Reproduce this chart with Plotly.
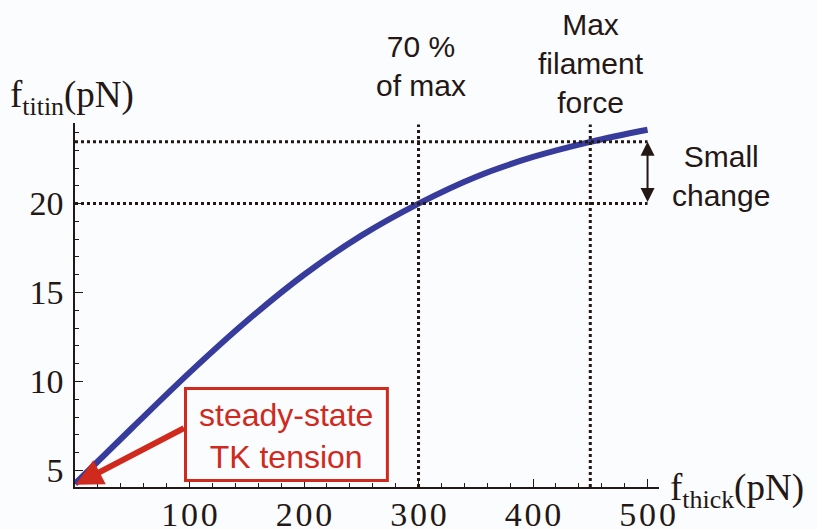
import plotly.graph_objects as go

# ---- data ----
thick_force = [0, 50, 100, 150, 200, 250, 300, 350, 400, 450, 500]
titin_force = [4.25, 7.4, 10.5, 13.4, 16.0, 18.2, 20.0, 21.5, 22.62, 23.47, 24.15]

ref_thick = [300, 450]        # vertical dotted markers (70 % of max, max filament force)
ref_titin = [20.0, 23.47]     # horizontal dotted markers
ref_top = 24.45               # top of vertical dotted markers
ref_right = 500               # right end of horizontal dotted markers

x_ticks = [100, 200, 300, 400, 500]
y_ticks = [5, 10, 15, 20]
x_range = [0, 510]
y_range = [4.07, 24.53]

steady_state = (0.5, 4.2)     # steady-state TK tension point

TXT = "#231815"
BLUE = "#363b9c"
RED = "#d02a1e"
BG = "#fbfcfe"
SERIF = "Liberation Serif"
SANS = "Liberation Sans"

L, R, T, B = 75, 158, 123, 42
W, H = 817, 529
pw, ph = W - L - R, H - T - B


def px2paper(px, py):
    return (px - L) / pw, (H - B - py) / ph


fig = go.Figure()

fig.add_trace(go.Scatter(
    x=thick_force, y=titin_force, mode="lines",
    line=dict(color=BLUE, width=6, shape="spline", smoothing=1.0),
    hoverinfo="skip", showlegend=False))

for xv in ref_thick:
    fig.add_trace(go.Scatter(
        x=[xv, xv], y=[y_range[0], ref_top], mode="lines",
        line=dict(color=TXT, width=3, dash="dot"),
        hoverinfo="skip", showlegend=False))
for yv in ref_titin:
    fig.add_trace(go.Scatter(
        x=[x_range[0], ref_right], y=[yv, yv], mode="lines",
        line=dict(color=TXT, width=3, dash="dot"),
        hoverinfo="skip", showlegend=False))

# red box
fig.add_shape(type="rect", xref="x", yref="y",
              x0=96.5, x1=272.8, y0=4.44, y1=9.61,
              line=dict(color=RED, width=3), fillcolor=BG, layer="above")

ann = []


def text_ann(px, py, text, size, color=TXT, family=SANS, xanchor="center"):
    x, y = px2paper(px, py)
    ann.append(dict(x=x, y=y, xref="paper", yref="paper", showarrow=False,
                    xanchor=xanchor, yanchor="middle", text=text,
                    font=dict(family=family, size=size, color=color)))


text_ann(286, 436, "steady-state<br>TK tension", 32, RED)
# red arrow
ann.append(dict(x=steady_state[0], y=steady_state[1], ax=96.5, ay=7.42,
                xref="x", yref="y", axref="x", ayref="y", text="",
                showarrow=True, arrowhead=2, arrowsize=0.9, arrowwidth=6,
                arrowcolor=RED))
# double arrow "small change"
ann.append(dict(x=ref_right, y=ref_titin[1], ax=ref_right, ay=ref_titin[0],
                xref="x", yref="y", axref="x", ayref="y", text="",
                showarrow=True, arrowhead=2, arrowside="end+start",
                arrowsize=1.4, arrowwidth=2, arrowcolor=TXT))
text_ann(721, 176, "Small<br>change", 30)
text_ann(421, 66, "70 %<br>of max", 30)
text_ann(591, 64, "Max<br>filament<br>force", 30)
# axis titles
text_ann(8, 97, "f<sub>titin</sub>(pN)", 37, family=SERIF, xanchor="left")
text_ann(668, 490, "f<sub>thick</sub>(pN)", 37, family=SERIF, xanchor="left")

fig.update_layout(
    width=W, height=H, autosize=False,
    margin=dict(l=L, r=R, t=T, b=B, pad=0, autoexpand=False),
    paper_bgcolor=BG, plot_bgcolor=BG,
    annotations=ann, showlegend=False,
)

axis_common = dict(showline=True, linecolor=TXT, linewidth=1.5, showgrid=False,
                   zeroline=False, ticks="inside", ticklen=8, tickwidth=1.3,
                   tickcolor=TXT, automargin=False,
                   tickfont=dict(family=SERIF, size=34, color=TXT))

fig.update_xaxes(range=x_range, tickmode="array", tickvals=x_ticks,
                 ticktext=["\u200a".join(str(v)) for v in x_ticks], ticklabelstandoff=-4,
                 minor=dict(tickmode="linear", tick0=0, dtick=20, ticks="inside",
                            ticklen=4, tickwidth=1, tickcolor=TXT),
                 **axis_common)
fig.update_yaxes(range=y_range, tickmode="array", tickvals=y_ticks,
                 ticktext=[str(v) for v in y_ticks], ticklabelstandoff=3,
                 minor=dict(tickmode="linear", tick0=0, dtick=1, ticks="inside",
                            ticklen=4, tickwidth=1, tickcolor=TXT),
                 **axis_common)

fig.write_html("out.html")
